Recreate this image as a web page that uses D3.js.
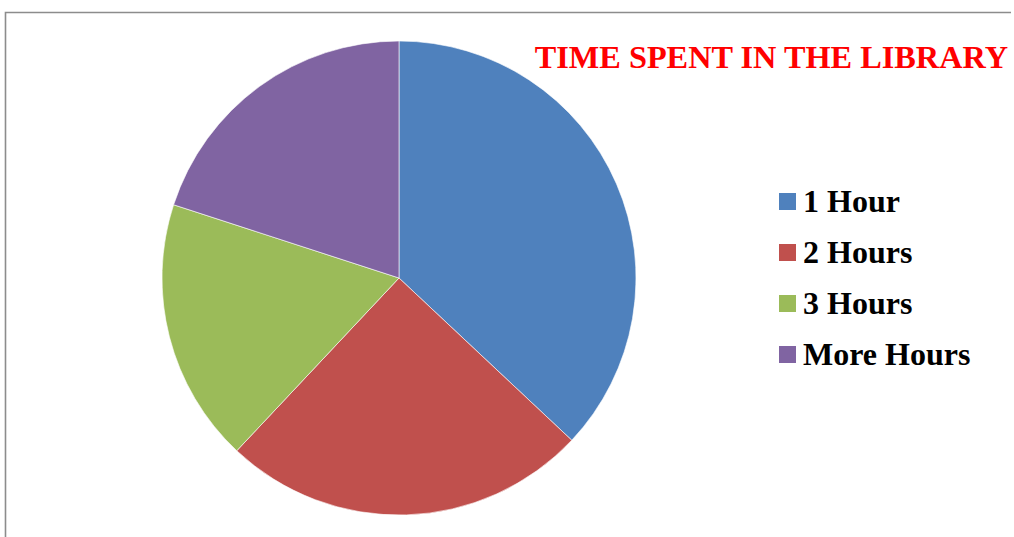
<!DOCTYPE html>
<html>
<head>
<meta charset="utf-8">
<script src="https://cdn.jsdelivr.net/npm/d3@7"></script>
<style>
  html, body { margin: 0; padding: 0; background: #fff; }
</style>
</head>
<body>
<div id="chart"></div>
<script>
const categories = ["1 Hour", "2 Hours", "3 Hours", "More Hours"]
const values = [37, 25, 18, 20]
const colors = ["#4F81BD", "#C0504D", "#9BBB59", "#8064A2"]
const title = "TIME SPENT IN THE LIBRARY"

const width = 1014
const height = 537

const svg = d3
  .select("#chart")
  .append("svg")
  .attr("width", width)
  .attr("height", height)
  .attr("viewBox", [0, 0, width, height])

// frame
svg.append("path")
  .attr("d", "M5.5,537 V12.5 H1011")
  .attr("fill", "none")
  .attr("stroke", "#8c8c8c")
  .attr("stroke-width", 1.6)

const cx = 399, cy = 278, radius = 237

const pie = d3.pie().sort(null).value(d => d)
const arc = d3.arc().innerRadius(0).outerRadius(radius)
const color = d3.scaleOrdinal().domain(categories).range(colors)

const g = svg.append("g").attr("transform", `translate(${cx},${cy})`)
g.selectAll("path")
  .data(pie(values))
  .join("path")
  .attr("d", arc)
  .attr("fill", (d, i) => color(categories[i]))
  .attr("stroke", "#fff")
  .attr("stroke-width", 0.6)

svg.append("text")
  .attr("x", 1008)
  .attr("y", 68)
  .attr("text-anchor", "end")
  .attr("font-family", "Liberation Serif, Times New Roman, serif")
  .attr("font-weight", "bold")
  .attr("font-size", 32.3)
  .attr("fill", "#ff0000")
  .text(title)

const legend = svg.append("g")
  .selectAll("g")
  .data(categories)
  .join("g")
  .attr("transform", (d, i) => `translate(779,${193 + i * 51})`)

legend.append("rect")
  .attr("width", 17)
  .attr("height", 17)
  .attr("fill", d => color(d))

legend.append("text")
  .attr("x", 24)
  .attr("y", 19)
  .attr("font-family", "Liberation Serif, Times New Roman, serif")
  .attr("font-weight", "bold")
  .attr("font-size", 32)
  .attr("fill", "#000")
  .text(d => d)
</script>
</body>
</html>
